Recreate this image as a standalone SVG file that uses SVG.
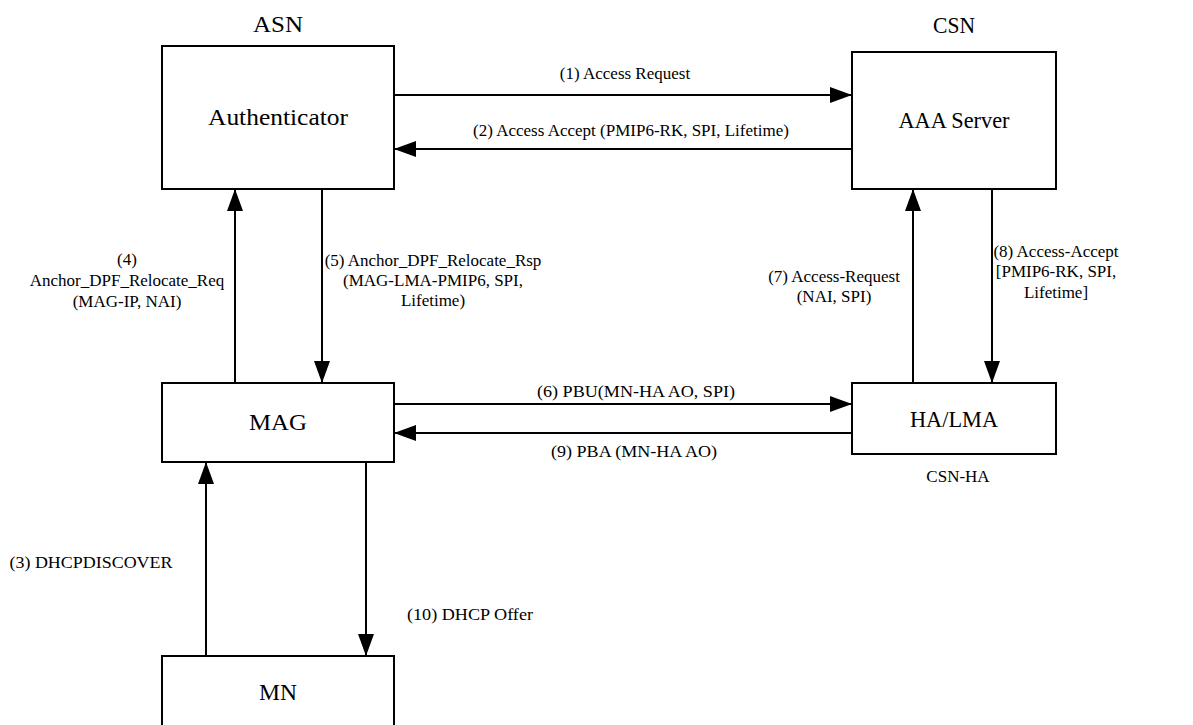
<svg xmlns="http://www.w3.org/2000/svg" width="1193" height="725" viewBox="0 0 1193 725">
  <style>
    .box { fill: #ffffff; stroke: #000000; stroke-width: 2; }
    .name { font-family: "Liberation Serif", "Times New Roman", serif; font-size: 24px; fill: #000000; text-anchor: middle; }
    .head { font-family: "Liberation Serif", "Times New Roman", serif; font-size: 23px; fill: #000000; text-anchor: middle; }
    .lbl { font-family: "Liberation Serif", "Times New Roman", serif; font-size: 17px; fill: #000000; text-anchor: middle; }
    .wire { stroke: #000000; stroke-width: 2; fill: none; marker-end: url(#head); }
  </style>
  <defs>
    <marker id="head" markerUnits="userSpaceOnUse" markerWidth="22" markerHeight="16" refX="22" refY="8" orient="auto">
      <path d="M0,0 L22,8 L0,16 Z" fill="#000000"/>
    </marker>
  </defs>
  <rect width="1193" height="725" fill="#ffffff"/>

  <!-- domain headings -->
  <text class="head" x="278" y="32" textLength="50" lengthAdjust="spacingAndGlyphs">ASN</text>
  <text class="head" x="954" y="33" textLength="42" lengthAdjust="spacingAndGlyphs">CSN</text>

  <g id="authenticator">
    <rect class="box" x="162" y="46" width="232" height="143"/>
    <text class="name" x="278" y="125" textLength="140" lengthAdjust="spacingAndGlyphs">Authenticator</text>
  </g>

  <g id="aaa-server">
    <rect class="box" x="852" y="52" width="204" height="137"/>
    <text class="name" x="954" y="128" textLength="111" lengthAdjust="spacingAndGlyphs">AAA Server</text>
  </g>

  <g id="mag">
    <rect class="box" x="162" y="383" width="232" height="79"/>
    <text class="name" x="278" y="430" textLength="58" lengthAdjust="spacingAndGlyphs">MAG</text>
  </g>

  <g id="ha-lma">
    <rect class="box" x="852" y="383" width="204" height="71"/>
    <text class="name" x="954" y="427" textLength="88" lengthAdjust="spacingAndGlyphs">HA/LMA</text>
    <text class="lbl" x="958" y="482">CSN-HA</text>
  </g>

  <g id="mn">
    <rect class="box" x="162" y="656" width="232" height="100"/>
    <text class="name" x="278" y="700" textLength="38" lengthAdjust="spacingAndGlyphs">MN</text>
  </g>

  <g id="connectors">
    <!-- Authenticator <-> AAA Server -->
    <line class="wire" x1="394" y1="95" x2="852" y2="95"/>
    <line class="wire" x1="852" y1="149" x2="394" y2="149"/>
    <!-- MAG <-> Authenticator -->
    <line class="wire" x1="235" y1="383" x2="235" y2="189"/>
    <line class="wire" x1="322" y1="189" x2="322" y2="383"/>
    <!-- HA/LMA <-> AAA Server -->
    <line class="wire" x1="913" y1="383" x2="913" y2="189"/>
    <line class="wire" x1="992" y1="189" x2="992" y2="383"/>
    <!-- MAG <-> HA/LMA -->
    <line class="wire" x1="394" y1="404" x2="852" y2="404"/>
    <line class="wire" x1="852" y1="433" x2="394" y2="433"/>
    <!-- MN <-> MAG -->
    <line class="wire" x1="206" y1="656" x2="206" y2="462"/>
    <line class="wire" x1="366" y1="462" x2="366" y2="656"/>

    <text class="lbl" x="625" y="79">(1) Access Request</text>
    <text class="lbl" x="631" y="136">(2) Access Accept (PMIP6-RK, SPI, Lifetime)</text>
    <text class="lbl" x="91" y="568" textLength="163" lengthAdjust="spacingAndGlyphs">(3) DHCPDISCOVER</text>
    <text class="lbl" x="127" y="265">(4)</text>
    <text class="lbl" x="127" y="286">Anchor_DPF_Relocate_Req</text>
    <text class="lbl" x="127" y="307">(MAG-IP, NAI)</text>
    <text class="lbl" x="433" y="266">(5) Anchor_DPF_Relocate_Rsp</text>
    <text class="lbl" x="433" y="286">(MAG-LMA-PMIP6, SPI,</text>
    <text class="lbl" x="433" y="306">Lifetime)</text>
    <text class="lbl" x="636" y="397" textLength="198" lengthAdjust="spacingAndGlyphs">(6) PBU(MN-HA AO, SPI)</text>
    <text class="lbl" x="834" y="282">(7) Access-Request</text>
    <text class="lbl" x="834" y="302">(NAI, SPI)</text>
    <text class="lbl" x="1056" y="257">(8) Access-Accept</text>
    <text class="lbl" x="1056" y="277">[PMIP6-RK, SPI,</text>
    <text class="lbl" x="1056" y="298">Lifetime]</text>
    <text class="lbl" x="634" y="457" textLength="166" lengthAdjust="spacingAndGlyphs">(9) PBA (MN-HA AO)</text>
    <text class="lbl" x="470" y="620" textLength="126" lengthAdjust="spacingAndGlyphs">(10) DHCP Offer</text>
  </g>
</svg>
